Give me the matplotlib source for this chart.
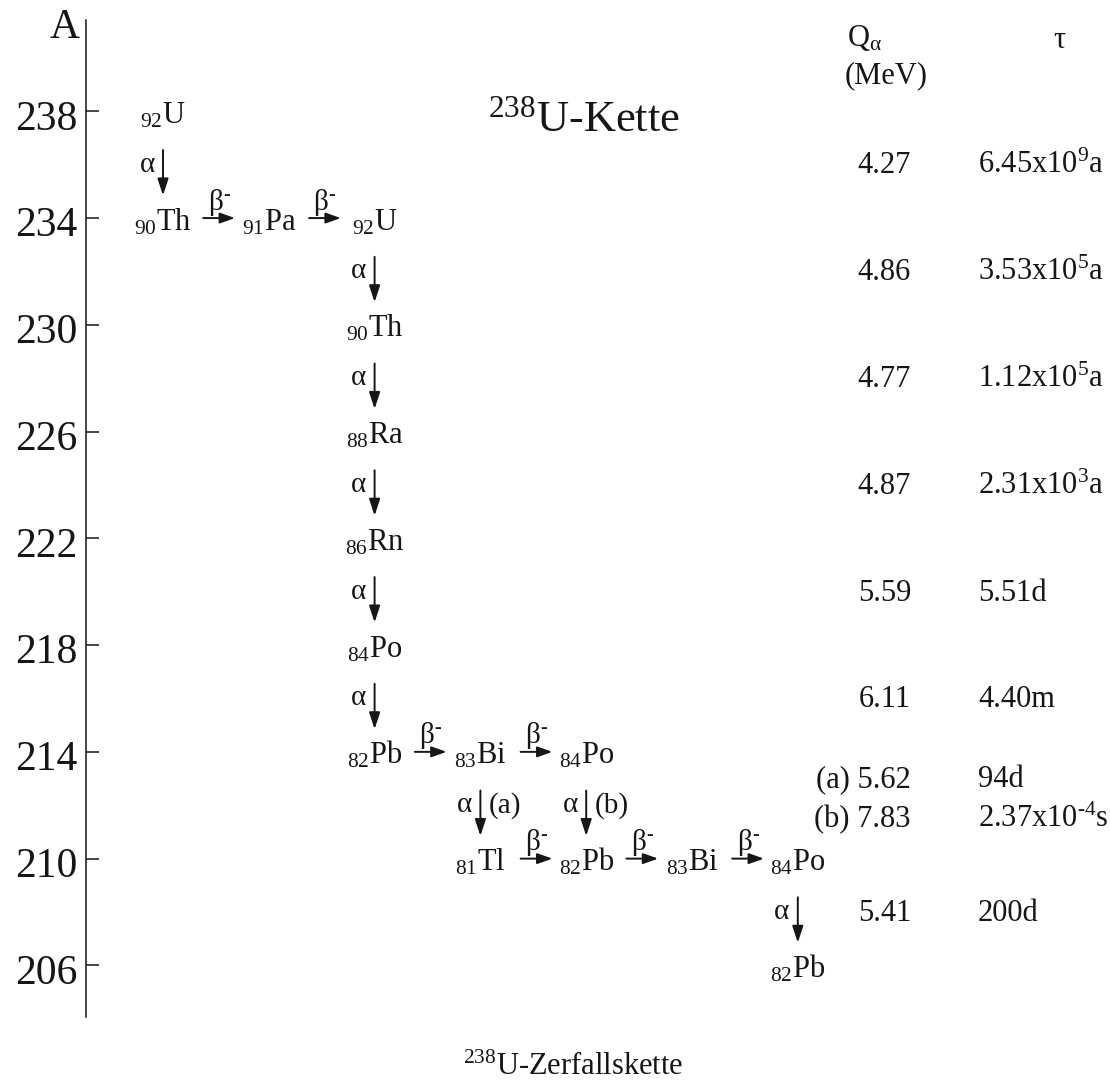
import matplotlib.pyplot as plt
from matplotlib.transforms import ScaledTranslation

plt.rcParams['font.family'] = 'Liberation Serif'
plt.rcParams['mathtext.fontset'] = 'custom'
plt.rcParams['mathtext.rm'] = 'Liberation Serif'
plt.rcParams['mathtext.it'] = 'Liberation Serif:italic'
plt.rcParams['mathtext.bf'] = 'Liberation Serif:bold'

# nuclides of the chain: symbol, Z, mass number A, column in the drawing
symbols = ['U', 'Th', 'Pa', 'U', 'Th', 'Ra', 'Rn', 'Po', 'Pb', 'Bi', 'Po', 'Tl', 'Pb', 'Bi', 'Po', 'Pb']
charges = [92, 90, 91, 92, 90, 88, 86, 84, 82, 83, 84, 81, 82, 83, 84, 82]
masses = [238, 234, 234, 234, 230, 226, 222, 218, 214, 214, 214, 210, 210, 210, 210, 206]
columns = [0, 0, 1, 2, 2, 2, 2, 2, 2, 3, 4, 3, 4, 5, 6, 6]

# decays as (parent, daughter) indices into the lists above
alpha_decays = [(0, 1), (3, 4), (4, 5), (5, 6), (6, 7), (7, 8), (9, 11), (10, 12), (14, 15)]
alpha_tags = ['', '', '', '', '', '', '(a)', '(b)', '']
beta_decays = [(1, 2), (2, 3), (8, 9), (9, 10), (11, 12), (12, 13), (13, 14)]

# table on the right: Q_alpha and lifetime, one row per alpha decay
q_alpha = ['4.27', '4.86', '4.77', '4.87', '5.59', '6.11', '(a) 5.62', '(b) 7.83', '5.41']
tau = ['6.45x10$^{9}$a', '3.53x10$^{5}$a', '1.12x10$^{5}$a', '2.31x10$^{3}$a',
       '5.51d', '4.40m', '94d', r'2.37x10$^{\text{-}4}$s', '200d']
row_A = [236, 232, 228, 224, 220, 216, 213, 211.5, 208]

mass_ticks = [238, 234, 230, 226, 222, 218, 214, 210, 206]

ink = '#161616'

# pixel layout of the page
W, H = 1110, 1086
col0, col_step = 163, 105.8
y238, px_per_A = 111.3, 26.69


def px2x(px):
    return (px - col0) / col_step


def py2A(py):
    return 238 - (py - y238) / px_per_A


fig = plt.figure(figsize=(W / 100, H / 100), dpi=100)
ax = fig.add_axes([0, 0, 1, 1])
ax.set_xlim(px2x(0), px2x(W))
ax.set_ylim(py2A(H), py2A(0))

for s in ['top', 'right', 'bottom']:
    ax.spines[s].set_visible(False)
ax.spines['left'].set_position(('data', px2x(86)))
ax.spines['left'].set_bounds(py2A(1017), py2A(20))
ax.spines['left'].set_linewidth(1.1)
ax.spines['left'].set_color(ink)
ax.set_xticks([])
ax.set_yticks(mass_ticks)
ax.set_yticklabels([str(m) for m in mass_ticks])
ax.tick_params(axis='y', direction='in', length=9, width=1.1, labelsize=30,
               pad=6, colors=ink)
# labels sit a little below their tick in the original
down = ScaledTranslation(0, -2.5 / 72, fig.dpi_scale_trans)
for lab in ax.get_yticklabels():
    lab.set_transform(lab.get_transform() + down)

ax.text(px2x(80), py2A(38), 'A', ha='right', va='baseline', fontsize=30, color=ink)

# nuclide labels
for sym, z, a, c in zip(symbols, charges, masses, columns):
    ax.text(c, a - 0.45, '$_{%d}$%s' % (z, sym), ha='center', va='baseline',
            fontsize=22, color=ink)

# alpha decays
for (p, d), tag in zip(alpha_decays, alpha_tags):
    c = columns[p]
    ax.annotate('', xy=(c, masses[d] + 0.85), xytext=(c, masses[p] - 1.45),
                arrowprops=dict(arrowstyle='-|>,head_length=1.0,head_width=0.33',
                                mutation_scale=10, lw=1.4, color=ink,
                                shrinkA=0, shrinkB=0))
    ax.annotate('α', xy=(c, masses[p] - 2.0), xytext=(-6, 0), textcoords='offset points',
                ha='right', va='center', fontsize=21, color=ink)
    if tag:
        ax.annotate(tag, xy=(c, masses[p] - 2.0), xytext=(6, 0), textcoords='offset points',
                    ha='left', va='center', fontsize=21, color=ink)

# beta decays
for p, d in beta_decays:
    mid = (columns[p] + columns[d]) / 2 + 0.03
    a = masses[p]
    ax.annotate('', xy=(mid + 0.15, a), xytext=(mid - 0.15, a),
                arrowprops=dict(arrowstyle='-|>,head_length=0.9,head_width=0.32',
                                mutation_scale=10, lw=1.4, color=ink,
                                shrinkA=0, shrinkB=0))
    ax.text(mid, a + 0.6, r'β$^{\text{-}}$', ha='center', va='center', fontsize=21, color=ink)

# table
ax.text(px2x(847), py2A(46), r'Q$_{\mathrm{\alpha}}$', ha='left', va='baseline',
        fontsize=22, color=ink)
ax.text(px2x(845), py2A(76), '(MeV)', ha='left', va='center', fontsize=22, color=ink)
ax.text(px2x(1059), py2A(48), 'τ', ha='center', va='baseline', fontsize=22, color=ink)
for q, t, a in zip(q_alpha, tau, row_A):
    ax.text(px2x(911), a - 0.33, q, ha='right', va='baseline', fontsize=22, color=ink)
    ax.text(px2x(978), a - 0.33, t, ha='left', va='baseline', fontsize=22, color=ink)

ax.text(px2x(584), py2A(131), '$^{238}$U-Kette', ha='center', va='baseline',
        fontsize=32, color=ink)
ax.text(px2x(573), py2A(1075), '$^{238}$U-Zerfallskette', ha='center', va='baseline',
        fontsize=22, color=ink)

fig.savefig('out.png', dpi=100)
